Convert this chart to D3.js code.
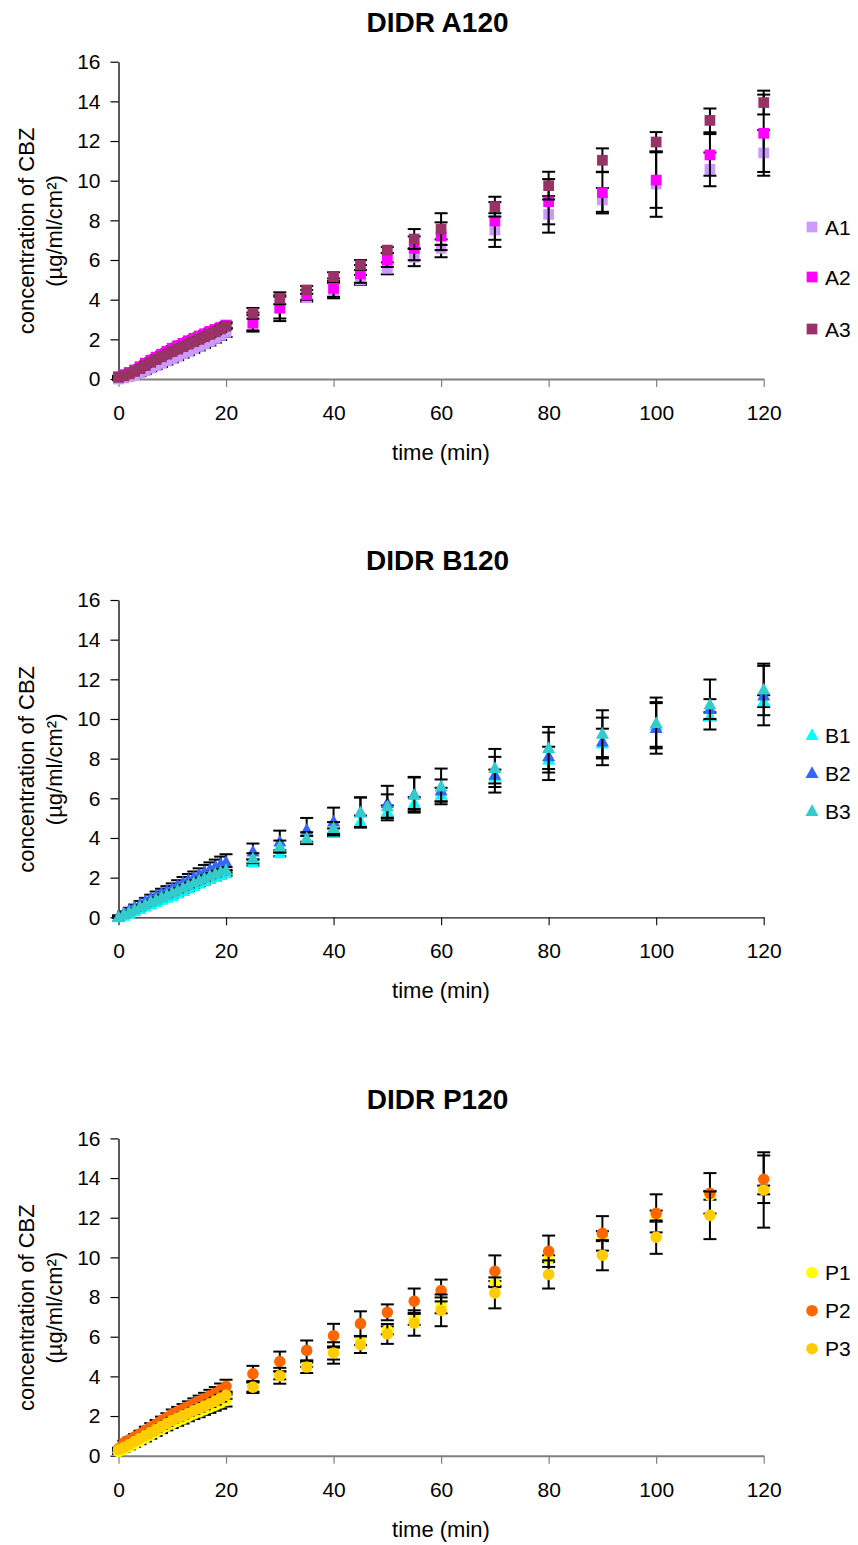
<!DOCTYPE html>
<html>
<head>
<meta charset="utf-8">
<script src="https://cdn.jsdelivr.net/npm/d3@7"></script>
<style>
  html, body { margin: 0; padding: 0; background: #fff; }
  svg { display: block; font-family: "Liberation Sans", Arial, sans-serif; }
</style>
</head>
<body>
<svg id="chart" width="858" height="1545"></svg>
<script>
// Sampling times (min)
const time = [0,1,2,3,4,5,6,7,8,9,10,11,12,13,14,15,16,17,18,19,20,25,30,35,40,45,50,55,60,70,80,90,100,110,120];

const xTicks = [0,20,40,60,80,100,120];
const yTicks = [0,2,4,6,8,10,12,14,16];

// DIDR A120
const a1 = [0.00,0.05,0.12,0.20,0.30,0.42,0.55,0.67,0.79,0.91,1.03,1.15,1.27,1.40,1.52,1.65,1.78,1.91,2.05,2.20,2.35,2.90,3.60,4.10,4.50,5.00,5.58,6.14,6.59,7.51,8.30,9.03,9.83,10.57,11.40];
const a1Err = [0.05,0.08,0.10,0.12,0.14,0.15,0.16,0.17,0.18,0.18,0.19,0.20,0.20,0.20,0.21,0.21,0.22,0.22,0.22,0.23,0.23,0.45,0.55,0.20,0.35,0.25,0.30,0.45,0.45,0.85,0.92,0.60,1.65,0.85,1.15];
const a2 = [0.12,0.22,0.33,0.46,0.62,0.80,0.95,1.10,1.25,1.40,1.55,1.68,1.80,1.93,2.05,2.17,2.28,2.40,2.50,2.60,2.72,2.81,3.57,4.24,4.57,5.30,6.00,6.59,7.20,7.97,8.94,9.40,10.03,11.30,12.39];
const a2Err = [0.04,0.05,0.06,0.07,0.08,0.08,0.09,0.10,0.10,0.10,0.11,0.11,0.12,0.12,0.12,0.13,0.13,0.14,0.14,0.15,0.15,0.42,0.65,0.25,0.50,0.45,0.35,0.60,0.70,0.95,1.14,1.05,1.40,1.05,1.95];
const a3 = [0.08,0.16,0.26,0.38,0.52,0.68,0.84,0.98,1.12,1.25,1.38,1.50,1.63,1.76,1.88,2.00,2.13,2.25,2.38,2.52,2.66,3.31,4.07,4.49,5.16,5.75,6.50,7.06,7.56,8.69,9.75,11.03,11.95,13.04,13.94];
const a3Err = [0.03,0.04,0.05,0.06,0.07,0.08,0.08,0.09,0.09,0.10,0.10,0.10,0.11,0.11,0.12,0.12,0.12,0.13,0.13,0.14,0.14,0.27,0.30,0.20,0.22,0.25,0.15,0.50,0.80,0.50,0.70,0.60,0.50,0.60,0.60];

// DIDR B120
const b1 = [0.00,0.08,0.18,0.30,0.42,0.55,0.66,0.77,0.88,0.98,1.08,1.20,1.32,1.45,1.58,1.70,1.82,1.93,2.03,2.13,2.22,2.76,3.23,3.90,4.28,4.83,5.34,5.76,6.18,7.10,7.95,8.76,9.70,10.14,10.90];
const b1Err = [0.02,0.04,0.05,0.06,0.07,0.08,0.08,0.09,0.09,0.10,0.10,0.10,0.11,0.11,0.11,0.12,0.12,0.12,0.13,0.13,0.13,0.15,0.15,0.20,0.20,0.30,0.30,0.30,0.35,0.35,0.65,0.75,1.10,0.20,0.30];
const b2 = [0.05,0.22,0.38,0.52,0.68,0.82,0.96,1.10,1.22,1.33,1.45,1.60,1.75,1.88,2.00,2.15,2.30,2.42,2.55,2.68,2.78,3.32,3.82,4.41,4.83,5.30,5.76,6.20,6.40,7.19,8.12,8.87,9.55,10.50,11.18];
const b2Err = [0.05,0.08,0.10,0.12,0.14,0.16,0.18,0.20,0.22,0.24,0.26,0.27,0.28,0.30,0.31,0.32,0.34,0.35,0.36,0.38,0.40,0.40,0.55,0.60,0.70,0.75,0.87,0.85,0.55,0.90,1.20,1.20,1.30,0.50,1.50];
const b3 = [0.02,0.15,0.27,0.40,0.53,0.66,0.79,0.90,1.02,1.13,1.25,1.37,1.50,1.62,1.75,1.87,1.98,2.10,2.20,2.30,2.38,2.98,3.57,3.99,4.50,5.29,5.60,6.18,6.60,7.53,8.54,9.26,9.80,10.73,11.49];
const b3Err = [0.02,0.04,0.05,0.06,0.07,0.08,0.08,0.09,0.10,0.10,0.10,0.11,0.11,0.12,0.12,0.12,0.13,0.13,0.14,0.14,0.15,0.25,0.30,0.30,0.30,0.75,0.60,0.90,0.90,0.96,1.06,1.18,1.28,1.26,1.30];

// DIDR P120
const p1 = [0.20,0.32,0.46,0.60,0.75,0.90,1.05,1.20,1.35,1.50,1.62,1.74,1.86,1.98,2.10,2.20,2.32,2.43,2.55,2.66,2.78,3.46,4.05,4.59,5.18,5.80,6.32,6.90,7.58,8.68,9.93,11.07,12.08,13.13,13.40];
const p1Err = [0.10,0.12,0.14,0.15,0.17,0.18,0.19,0.20,0.21,0.22,0.22,0.23,0.24,0.24,0.25,0.26,0.26,0.27,0.28,0.29,0.30,0.23,0.20,0.11,0.33,0.22,0.20,0.30,0.40,0.12,0.17,0.25,0.28,0.22,1.90];
const p2 = [0.35,0.65,0.80,0.95,1.10,1.28,1.45,1.60,1.76,1.92,2.10,2.22,2.35,2.48,2.62,2.75,2.88,3.02,3.15,3.32,3.50,4.13,4.75,5.31,6.05,6.66,7.23,7.79,8.33,9.30,10.31,11.21,12.22,13.23,13.94];
const p2Err = [0.05,0.10,0.12,0.14,0.16,0.18,0.19,0.20,0.21,0.22,0.23,0.24,0.25,0.26,0.27,0.28,0.29,0.30,0.31,0.32,0.33,0.40,0.50,0.50,0.60,0.62,0.40,0.64,0.55,0.80,0.79,0.87,0.96,1.02,1.20];
const p3 = [0.30,0.42,0.56,0.72,0.88,1.03,1.18,1.33,1.48,1.62,1.78,1.90,2.02,2.14,2.26,2.38,2.50,2.62,2.75,2.90,3.05,3.46,4.03,4.47,5.18,5.60,6.14,6.69,7.33,8.21,9.14,10.11,11.02,12.12,13.40];
const p3Err = [0.05,0.06,0.07,0.08,0.09,0.10,0.10,0.11,0.12,0.12,0.13,0.13,0.14,0.14,0.15,0.15,0.16,0.16,0.17,0.17,0.18,0.30,0.40,0.30,0.54,0.42,0.50,0.64,0.80,0.78,0.71,0.76,0.84,1.20,0.22];

const panels = [
  { title: "DIDR A120", dy: 0, shape: "square", xAxisColor: "#808080", xAxisWidth: 2,
    legendY: [227, 277, 329],
    series: [
      { name: "A1", color: "#CC99FF", values: a1, err: a1Err },
      { name: "A2", color: "#FF00FF", values: a2, err: a2Err },
      { name: "A3", color: "#993366", values: a3, err: a3Err }
    ] },
  { title: "DIDR B120", dy: 538.3, shape: "triangle", xAxisColor: "#1a1a1a", xAxisWidth: 1.3,
    legendY: [196.7, 234.7, 272.7],
    series: [
      { name: "B1", color: "#00FFFF", values: b1, err: b1Err },
      { name: "B2", color: "#3366FF", values: b2, err: b2Err },
      { name: "B3", color: "#33CCCC", values: b3, err: b3Err }
    ] },
  { title: "DIDR P120", dy: 1076.7, shape: "circle", xAxisColor: "#808080", xAxisWidth: 2,
    legendY: [196, 234, 272],
    series: [
      { name: "P1", color: "#FFFF00", values: p1, err: p1Err },
      { name: "P2", color: "#FF6600", values: p2, err: p2Err },
      { name: "P3", color: "#FFCC00", values: p3, err: p3Err }
    ] }
];

const svg = d3.select("#chart");
svg.append("rect").attr("width", 858).attr("height", 1545).attr("fill", "#fff");

const plotLeft = 118.5, plotRight = 763.7, plotTop = 61.7, plotBottom = 379;
const capHalf = 6.5;

function markerPath(shape) {
  if (shape === "square") return d3.symbol().type(d3.symbolSquare).size(115)();
  if (shape === "triangle") return "M0,-6.8L6.5,5L-6.5,5Z";
  return d3.symbol().type(d3.symbolCircle).size(Math.PI * 5.8 * 5.8)();
}

panels.forEach(panel => {
  const g = svg.append("g").attr("transform", `translate(0,${panel.dy})`);
  const x = d3.scaleLinear().domain([0, 120]).range([plotLeft, plotRight]);
  const y = d3.scaleLinear().domain([0, 16]).range([plotBottom, plotTop]);

  // Title
  g.append("text")
    .attr("x", 437.5).attr("y", 32)
    .attr("text-anchor", "middle")
    .attr("font-size", 28).attr("font-weight", "bold")
    .text(panel.title);

  // Y axis
  const yAxis = g.append("g")
    .attr("transform", `translate(${plotLeft},0)`)
    .call(d3.axisLeft(y).tickValues(yTicks).tickFormat(d3.format("d")).tickSize(8).tickSizeOuter(0).tickPadding(10));
  yAxis.select(".domain").attr("stroke", "#000").attr("stroke-width", 1.3);
  yAxis.selectAll(".tick line").attr("stroke", "#000").attr("stroke-width", 1.2);
  yAxis.selectAll(".tick text").attr("font-size", 21).attr("fill", "#000")
    .attr("font-family", "Liberation Sans, Arial, sans-serif");

  // X axis
  const xAxis = g.append("g")
    .attr("transform", `translate(0,${plotBottom})`)
    .call(d3.axisBottom(x).tickValues(xTicks).tickFormat(d3.format("d")).tickSize(8).tickSizeOuter(0).tickPadding(18));
  xAxis.select(".domain").attr("stroke", panel.xAxisColor).attr("stroke-width", panel.xAxisWidth);
  xAxis.selectAll(".tick line").attr("stroke", panel.xAxisColor).attr("stroke-width", 1.2);
  xAxis.selectAll(".tick text").attr("font-size", 21).attr("fill", "#000")
    .attr("font-family", "Liberation Sans, Arial, sans-serif");

  // Axis titles
  g.append("text")
    .attr("x", 441).attr("y", 460)
    .attr("text-anchor", "middle").attr("font-size", 22)
    .text("time (min)");
  const yTitle = g.append("g").attr("transform", "translate(0,231)");
  yTitle.append("text")
    .attr("transform", "translate(26,0) rotate(-90)")
    .attr("text-anchor", "middle").attr("dy", "0.35em").attr("font-size", 22)
    .text("concentration of CBZ");
  yTitle.append("text")
    .attr("transform", "translate(54,0) rotate(-90)")
    .attr("text-anchor", "middle").attr("dy", "0.35em").attr("font-size", 22)
    .text("(µg/ml/cm²)");

  const path = markerPath(panel.shape);

  // Series: error bars, then markers
  panel.series.forEach(s => {
    const pts = time.map((t, i) => ({ t, v: s.values[i], e: s.err[i] }));
    const eg = g.append("g").attr("stroke", "#000").attr("stroke-width", 2).attr("fill", "none");
    eg.selectAll("line.bar").data(pts).join("line").attr("class", "bar")
      .attr("x1", d => x(d.t)).attr("x2", d => x(d.t))
      .attr("y1", d => y(d.v - d.e)).attr("y2", d => y(d.v + d.e));
    eg.selectAll("line.capTop").data(pts).join("line").attr("class", "capTop")
      .attr("x1", d => x(d.t) - capHalf).attr("x2", d => x(d.t) + capHalf)
      .attr("y1", d => y(d.v + d.e)).attr("y2", d => y(d.v + d.e));
    eg.selectAll("line.capBot").data(pts).join("line").attr("class", "capBot")
      .attr("x1", d => x(d.t) - capHalf).attr("x2", d => x(d.t) + capHalf)
      .attr("y1", d => y(d.v - d.e)).attr("y2", d => y(d.v - d.e));

    g.append("g").selectAll("path").data(pts).join("path")
      .attr("d", path)
      .attr("transform", d => `translate(${x(d.t)},${y(d.v)})`)
      .attr("fill", s.color);
  });

  // Legend
  panel.series.forEach((s, i) => {
    const ly = panel.legendY[i];
    g.append("path").attr("d", path)
      .attr("transform", `translate(812,${ly})`)
      .attr("fill", s.color);
    g.append("text")
      .attr("x", 825).attr("y", ly).attr("dy", "0.36em")
      .attr("font-size", 21)
      .text(s.name);
  });
});
</script>
</body>
</html>
